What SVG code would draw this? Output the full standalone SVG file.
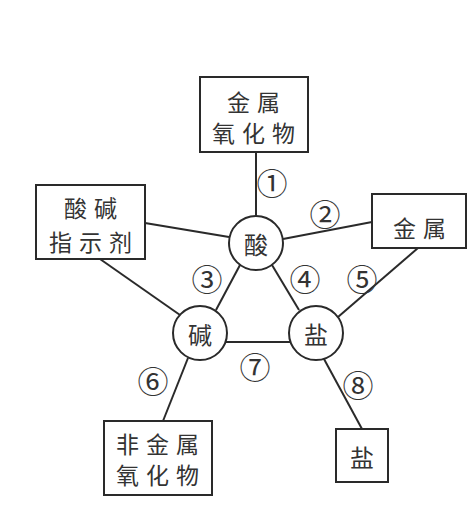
<svg xmlns="http://www.w3.org/2000/svg" width="474" height="532" viewBox="0 0 474 532">
<style>
.box{fill:#fff;stroke:#2a2a2a;stroke-width:2}
.cir{fill:#fff;stroke:#2a2a2a;stroke-width:2}
.ln{stroke:#2a2a2a;stroke-width:2;fill:none}
.t{font-family:"Noto Sans CJK SC","Noto Sans CJK JP",sans-serif;font-size:23px;fill:#333;text-anchor:middle;dominant-baseline:central;letter-spacing:7px}
.c{font-family:"Noto Sans CJK SC",sans-serif;font-size:24px;fill:#333;text-anchor:middle;dominant-baseline:central}
.n{font-family:"Noto Sans CJK SC","DejaVu Sans",sans-serif;font-size:31px;fill:#333;text-anchor:middle;dominant-baseline:central}
</style>
<rect width="474" height="532" fill="#fff"/>
<g id="connectors">
<line class="ln" x1="256" y1="152" x2="256" y2="216"/>
<line class="ln" x1="283" y1="239" x2="372" y2="222"/>
<line class="ln" x1="145" y1="223" x2="229" y2="237"/>
<line class="ln" x1="100" y1="259" x2="180" y2="315"/>
<line class="ln" x1="418" y1="248" x2="338" y2="317"/>
<line class="ln" x1="240" y1="265" x2="216" y2="310"/>
<line class="ln" x1="272" y1="265" x2="299" y2="310"/>
<line class="ln" x1="226" y1="342" x2="290" y2="342"/>
<line class="ln" x1="188" y1="358" x2="163" y2="421"/>
<line class="ln" x1="324" y1="359" x2="362" y2="429"/>
<text class="n" x="272" y="181">①</text>
<text class="n" x="325" y="212">②</text>
<text class="n" x="207" y="277">③</text>
<text class="n" x="305" y="277">④</text>
<text class="n" x="362" y="277">⑤</text>
<text class="n" x="153" y="379">⑥</text>
<text class="n" x="255" y="365">⑦</text>
<text class="n" x="358" y="383">⑧</text>
</g>
<g id="node-jinshu-yanghuawu">
<rect class="box" x="200" y="77" width="108" height="75"/>
<text class="t"><tspan x="257" y="101">金属</tspan><tspan x="257" y="132">氧化物</tspan></text>
</g>
<g id="node-zhishiji">
<rect class="box" x="36" y="185" width="109" height="74"/>
<text class="t"><tspan x="94" y="207">酸碱</tspan><tspan x="94" y="241">指示剂</tspan></text>
</g>
<g id="node-jinshu">
<rect class="box" x="372" y="194" width="94" height="54"/>
<text class="t" x="423" y="227">金属</text>
</g>
<g id="node-suan">
<circle class="cir" cx="256" cy="243" r="27"/>
<text class="c" x="256" y="243">酸</text>
</g>
<g id="node-jian">
<circle class="cir" cx="200" cy="333" r="27"/>
<text class="c" x="200" y="333">碱</text>
</g>
<g id="node-yan">
<circle class="cir" cx="316" cy="333" r="27"/>
<text class="c" x="316" y="333">盐</text>
</g>
<g id="node-feijinshu-yanghuawu">
<rect class="box" x="104" y="421" width="108" height="74"/>
<text class="t"><tspan x="161" y="443">非金属</tspan><tspan x="161" y="474">氧化物</tspan></text>
</g>
<g id="node-yan-box">
<rect class="box" x="336" y="429" width="52" height="53"/>
<text class="c" x="362" y="456">盐</text>
</g>
</svg>
